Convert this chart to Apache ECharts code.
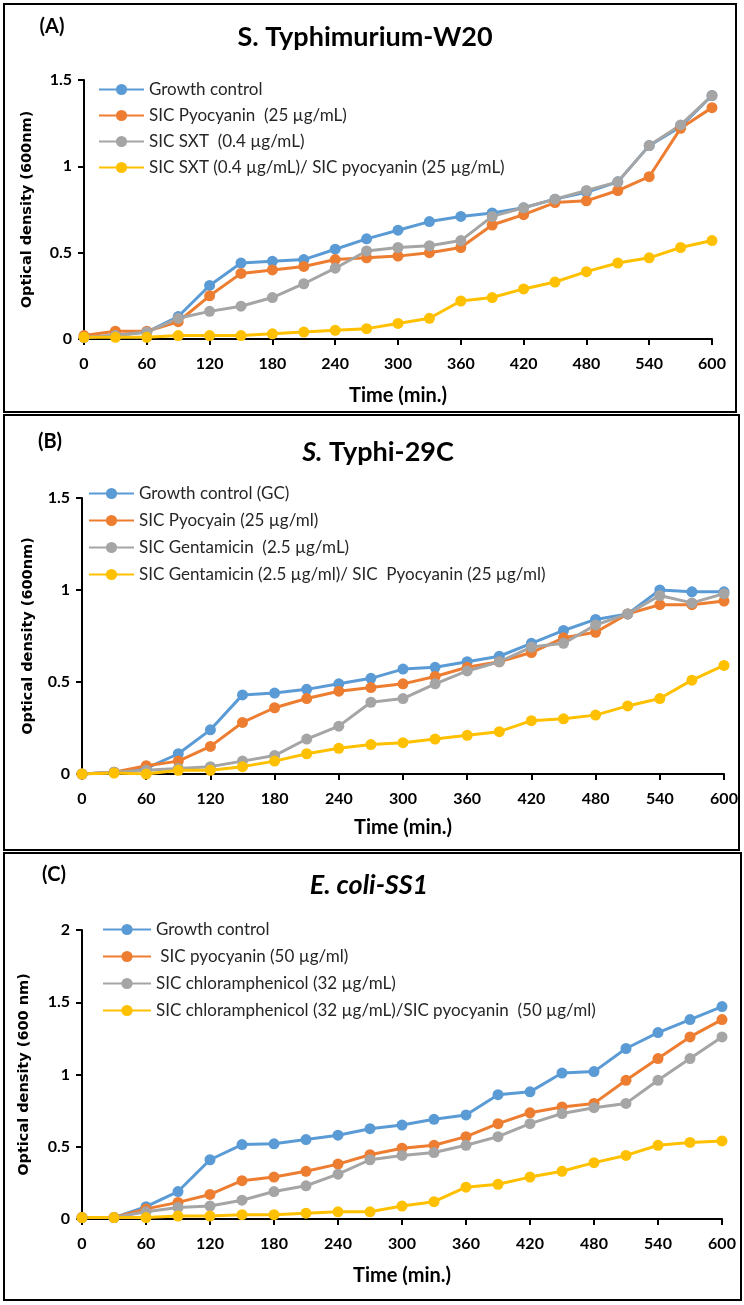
<!DOCTYPE html>
<html>
<head>
<meta charset="utf-8">
<script src="https://cdn.jsdelivr.net/npm/echarts@6/dist/echarts.min.js"></script>
<style>
  html, body { margin: 0; padding: 0; background: #fff; }
  #chart { width: 744px; height: 1305px; }
</style>
</head>
<body>
<div id="chart"></div>
<script>
const colors = ['#5B9BD5', '#ED7D31', '#A5A5A5', '#FFC000'];

const timeMin = [0, 30, 60, 90, 120, 150, 180, 210, 240, 270, 300, 330, 360, 390, 420, 450, 480, 510, 540, 570, 600];

// (A) S. Typhimurium-W20
const aNames = ['Growth control', 'SIC Pyocyanin  (25 µg/mL)', 'SIC SXT  (0.4 µg/mL)', 'SIC SXT (0.4 µg/mL)/ SIC pyocyanin (25 µg/mL)'];
const aGrowth = [0.01, 0.02, 0.04, 0.13, 0.31, 0.44, 0.45, 0.46, 0.52, 0.58, 0.63, 0.68, 0.71, 0.73, 0.76, 0.81, 0.85, 0.91, 1.12, 1.23, 1.41];
const aPyo = [0.02, 0.045, 0.045, 0.10, 0.25, 0.38, 0.40, 0.42, 0.46, 0.47, 0.48, 0.50, 0.53, 0.66, 0.72, 0.79, 0.80, 0.86, 0.94, 1.22, 1.34];
const aSxt = [0.01, 0.02, 0.04, 0.12, 0.16, 0.19, 0.24, 0.32, 0.41, 0.51, 0.53, 0.54, 0.57, 0.71, 0.76, 0.81, 0.86, 0.91, 1.12, 1.24, 1.41];
const aCombo = [0.01, 0.01, 0.01, 0.02, 0.02, 0.02, 0.03, 0.04, 0.05, 0.06, 0.09, 0.12, 0.22, 0.24, 0.29, 0.33, 0.39, 0.44, 0.47, 0.53, 0.57];

// (B) S. Typhi-29C
const bNames = ['Growth control (GC)', 'SIC Pyocyain (25 µg/ml)', 'SIC Gentamicin  (2.5 µg/mL)', 'SIC Gentamicin (2.5 µg/ml)/ SIC  Pyocyanin (25 µg/ml)'];
const bGrowth = [0, 0.01, 0.03, 0.11, 0.24, 0.43, 0.44, 0.46, 0.49, 0.52, 0.57, 0.58, 0.61, 0.64, 0.71, 0.78, 0.84, 0.87, 1.00, 0.99, 0.99];
const bPyo = [0, 0.01, 0.045, 0.07, 0.15, 0.28, 0.36, 0.41, 0.45, 0.47, 0.49, 0.53, 0.58, 0.61, 0.66, 0.74, 0.77, 0.87, 0.92, 0.92, 0.94];
const bGen = [0, 0.01, 0.02, 0.03, 0.04, 0.07, 0.10, 0.19, 0.26, 0.39, 0.41, 0.49, 0.56, 0.61, 0.69, 0.71, 0.81, 0.87, 0.97, 0.93, 0.98];
const bCombo = [0, 0.005, 0, 0.02, 0.02, 0.04, 0.07, 0.11, 0.14, 0.16, 0.17, 0.19, 0.21, 0.23, 0.29, 0.30, 0.32, 0.37, 0.41, 0.51, 0.59];

// (C) E. coli-SS1
const cNames = ['Growth control', ' SIC pyocyanin (50 µg/ml)', 'SIC chloramphenicol (32 µg/mL)', 'SIC chloramphenicol (32 µg/mL)/SIC pyocyanin  (50 µg/ml)'];
const cGrowth = [0.01, 0.01, 0.085, 0.19, 0.41, 0.515, 0.52, 0.55, 0.58, 0.625, 0.65, 0.69, 0.72, 0.86, 0.88, 1.01, 1.02, 1.18, 1.29, 1.38, 1.47];
const cPyo = [0.01, 0.01, 0.07, 0.115, 0.17, 0.265, 0.29, 0.33, 0.38, 0.445, 0.49, 0.51, 0.57, 0.66, 0.735, 0.775, 0.80, 0.96, 1.11, 1.26, 1.38];
const cChl = [0.01, 0.01, 0.05, 0.08, 0.09, 0.13, 0.19, 0.23, 0.31, 0.41, 0.44, 0.46, 0.51, 0.57, 0.66, 0.73, 0.77, 0.80, 0.96, 1.11, 1.26];
const cCombo = [0.01, 0.01, 0.01, 0.02, 0.02, 0.03, 0.03, 0.04, 0.05, 0.05, 0.09, 0.12, 0.22, 0.24, 0.29, 0.33, 0.39, 0.44, 0.51, 0.53, 0.54];

const xTicks = { min: 0, max: 600, interval: 60 };
const aYTicks = { min: 0, max: 1.5, interval: 0.5 };
const bYTicks = { min: 0, max: 1.5, interval: 0.5 };
const cYTicks = { min: 0, max: 2, interval: 0.5 };

const tickFont = { fontFamily: 'Lato', fontWeight: 'bold', fontSize: 16, color: '#000' };

const panels = [
    {
        names: aNames, values: [aGrowth, aPyo, aSxt, aCombo], yTicks: aYTicks,
        yName: 'Optical density (600nm)',
        grid: { left: 84, top: 80, width: 628, height: 259 },
        legend: { left: 98, top: 81, itemWidth: 45, itemGap: 9 },
        yNameGap: 49, xNameGap: 47
    },
    {
        names: bNames, values: [bGrowth, bPyo, bGen, bCombo], yTicks: bYTicks,
        yName: 'Optical density (600nm)',
        grid: { left: 82, top: 498, width: 642, height: 276 },
        legend: { left: 88, top: 485, itemWidth: 45, itemGap: 10 },
        yNameGap: 46, xNameGap: 44
    },
    {
        names: cNames, values: [cGrowth, cPyo, cChl, cCombo], yTicks: cYTicks,
        yName: 'Optical density (600 nm)',
        grid: { left: 82, top: 930, width: 640, height: 289 },
        legend: { left: 102, top: 921, itemWidth: 48, itemGap: 10 },
        yNameGap: 50, xNameGap: 47
    }
];

const option = {
    animation: false,
    backgroundColor: '#fff',
    grid: [], xAxis: [], yAxis: [], legend: [], series: [],
    graphic: []
};

panels.forEach((p, k) => {
    option.grid.push(p.grid);
    option.xAxis.push({
        type: 'value', gridIndex: k,
        min: xTicks.min, max: xTicks.max, interval: xTicks.interval,
        name: 'Time (min.)', nameLocation: 'middle', nameGap: p.xNameGap,
        nameTextStyle: { fontFamily: 'Lato', fontWeight: 'bold', fontSize: 20, color: '#000' },
        axisLine: { show: true, lineStyle: { color: '#000', width: 2 } },
        axisTick: { show: true, length: 6, lineStyle: { color: '#000', width: 2 } },
        axisLabel: Object.assign({ margin: 17 }, tickFont),
        splitLine: { show: false }
    });
    option.yAxis.push({
        type: 'value', gridIndex: k,
        min: p.yTicks.min, max: p.yTicks.max, interval: p.yTicks.interval,
        name: p.yName, nameLocation: 'middle', nameRotate: 90, nameGap: p.yNameGap,
        nameTextStyle: { fontFamily: 'DejaVu Sans', fontWeight: 'bold', fontSize: 14.5, color: '#000' },
        axisLine: { show: true, lineStyle: { color: '#000', width: 2 } },
        axisTick: { show: true, length: 6, lineStyle: { color: '#000', width: 2 } },
        axisLabel: Object.assign({ margin: 12 }, tickFont),
        splitLine: { show: false }
    });
    option.legend.push({
        orient: 'vertical',
        left: p.legend.left, top: p.legend.top,
        itemWidth: p.legend.itemWidth, itemHeight: 14, itemGap: p.legend.itemGap,
        padding: 0,
        data: p.names,
        textStyle: { fontFamily: 'Lato', fontSize: 17, color: '#262626' }
    });
    p.values.forEach((vals, i) => {
        option.series.push({
            name: p.names[i],
            type: 'line',
            xAxisIndex: k, yAxisIndex: k,
            symbol: 'circle', symbolSize: 11,
            color: colors[i],
            lineStyle: { width: 3, color: colors[i] },
            itemStyle: { color: colors[i] },
            data: timeMin.map((t, j) => [t, vals[j]])
        });
    });
});

// panel frames
const frames = [
    { x: 4, y: 4, width: 732, height: 408 },
    { x: 4, y: 415, width: 735, height: 435 },
    { x: 4, y: 853, width: 737, height: 447 }
];
frames.forEach(f => {
    option.graphic.push({
        type: 'rect', shape: f,
        style: { fill: 'none', stroke: '#000', lineWidth: 2 }, silent: true
    });
});

// panel letters and titles
const letters = [['(A)', 52, 27], ['(B)', 50, 442], ['(C)', 54, 875]];
letters.forEach(l => {
    option.graphic.push({
        type: 'text', x: l[1], y: l[2], silent: true,
        style: { text: l[0], fontFamily: 'Lato', fontSize: 20, fontWeight: 'bold', fill: '#000', align: 'center', verticalAlign: 'middle' }
    });
});
const titleRich = {
    n: { fontFamily: 'Lato', fontSize: 27, fontWeight: 'bold', color: '#000' },
    i: { fontFamily: 'Lato', fontSize: 27, fontWeight: 'bold', fontStyle: 'italic', color: '#000' }
};
const titles = [
    ['{n|S. Typhimurium-W20}', 365, 37],
    ['{i|S.}{n| Typhi-29C}', 378, 452],
    ['{i|E. coli-SS1}', 369, 885]
];
titles.forEach(t => {
    option.graphic.push({
        type: 'text', x: t[1], y: t[2], silent: true,
        style: { text: t[0], rich: titleRich, align: 'center', verticalAlign: 'middle' }
    });
});

const chart = echarts.init(document.getElementById('chart'));
chart.setOption(option);
</script>
</body>
</html>
